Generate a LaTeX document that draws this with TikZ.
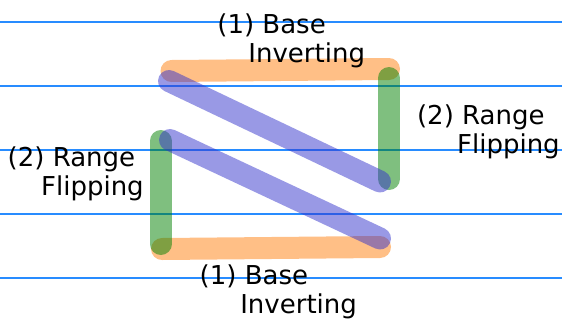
\documentclass[tikz,border=0pt]{standalone}
\usepackage{fontspec}
\setmainfont{DejaVu Sans}
\definecolor{gridblue}{RGB}{40,140,255}
\definecolor{invorange}{RGB}{255,127,14}
\definecolor{flipgreen}{RGB}{0,128,0}
\definecolor{pathblue}{RGB}{51,51,204}
\tikzset{
  gridline/.style={gridblue, line width=0.7pt},
  stroke/.style={line width=11pt, line cap=round, opacity=0.5},
  steplabel/.style={anchor=base west, inner sep=0pt, align=left,
    font=\fontsize{13pt}{14.5pt}\selectfont}
}
\begin{document}
\begin{tikzpicture}[x=0.5pt,y=-0.5pt]
\useasboundingbox (0,0) rectangle (562,322);
% corner points
\coordinate (topL) at (171.5,71);
\coordinate (topR) at (389,69);
\coordinate (rgtT) at (389,78);
\coordinate (rgtB) at (389,179);
\coordinate (diaA) at (169,81);
\coordinate (diaB) at (380,181.5);
\coordinate (diaC) at (170,140);
\coordinate (diaD) at (380,238.5);
\coordinate (lftT) at (160.7,141);
\coordinate (lftB) at (160.7,244);
\coordinate (botL) at (162,249);
\coordinate (botR) at (380,247);
% horizontal guides
\foreach \y in {22,86,150,214,278}
  \draw[gridline] (0,\y) -- (562,\y);
% strokes
\draw[stroke, invorange] (topL) -- (topR);
\draw[stroke, invorange] (botL) -- (botR);
\draw[stroke, flipgreen] (rgtT) -- (rgtB);
\draw[stroke, flipgreen] (lftT) -- (lftB);
\draw[stroke, pathblue] (diaA) -- (diaB);
\draw[stroke, pathblue] (diaC) -- (diaD);
% labels (anchored at the baseline of the second line)
\node[steplabel] (baseTop) at (217,62) {(1) Base\\\hspace*{15.5pt}Inverting};
\node[steplabel] (rangeRight) at (416.7,153) {(2) Range\\\hspace*{20pt}Flipping};
\node[steplabel] (rangeLeft) at (7.3,195) {(2) Range\\\hspace*{16.7pt}Flipping};
\node[steplabel] (baseBottom) at (199.3,313) {(1) Base\\\hspace*{20.3pt}Inverting};
\end{tikzpicture}
\end{document}
